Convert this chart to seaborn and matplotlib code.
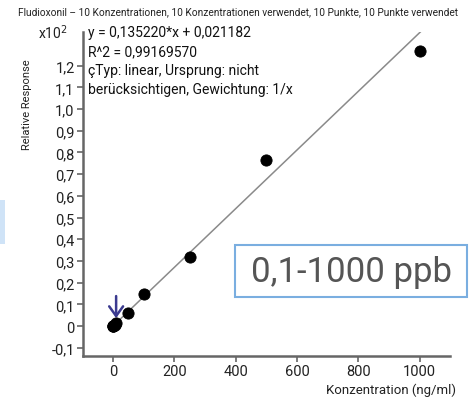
import matplotlib
matplotlib.use("Agg")
import matplotlib.pyplot as plt
import seaborn as sns
import numpy as np
import pandas as pd
from matplotlib.patches import FancyArrowPatch, Rectangle

sns.set_theme(style="white")
plt.rcParams['font.family'] = ['Roboto', 'DejaVu Sans']

conc = [0.1, 0.5, 1, 5, 10, 50, 100, 250, 500, 1000]
resp = [0.000, 0.001, 0.002, 0.006, 0.012, 0.060, 0.147, 0.318, 0.765, 1.267]
slope = 0.0013522
intercept = 0.00021182
line_x = [0, 1020]
yticks = [-0.1, 0, 0.1, 0.2, 0.3, 0.4, 0.5, 0.6, 0.7, 0.8, 0.9, 1.0, 1.1, 1.2]
ytick_labels = ["-0,1", "0", "0,1", "0,2", "0,3", "0,4", "0,5", "0,6", "0,7", "0,8", "0,9", "1,0", "1,1", "1,2"]
xticks = [0, 200, 400, 600, 800, 1000]

df = pd.DataFrame({"x": conc, "y": resp})
line_df = pd.DataFrame({"x": line_x, "y": [slope * v + intercept for v in line_x]})

fig = plt.figure(figsize=(4.77, 4.02), dpi=100)
ax = fig.add_axes([0.174, 0.112, 0.769, 0.806])

sns.lineplot(data=line_df, x="x", y="y", ax=ax, color="#8a8a8a", linewidth=1.1)
sns.scatterplot(data=df, x="x", y="y", ax=ax, color="black", s=65, edgecolor="black", zorder=3)

ax.set_xlim(-98, 1098)
ax.set_ylim(-0.138, 1.355)
ax.set_yticks(yticks)
ax.set_yticklabels(ytick_labels)
ax.set_xticks(xticks)
ax.set_xticklabels([str(v) for v in xticks])
ax.set_xlabel("")
ax.set_ylabel("")
for s in ["top", "right"]:
    ax.spines[s].set_visible(False)
for s in ["left", "bottom"]:
    ax.spines[s].set_color("#666666")
    ax.spines[s].set_linewidth(1.8)
ax.tick_params(axis="both", which="both", direction="out", length=4, width=1.2,
               color="#666666", labelsize=10.5, labelcolor="#222222", pad=2,
               left=True, bottom=True)

# arrow near origin
ax.add_patch(FancyArrowPatch((10, 0.138), (10, 0.038), arrowstyle="-|>,head_width=0.0,head_length=0.0",
                             color="#3b3a8f", linewidth=1.8, shrinkA=0, shrinkB=0))
ax.add_patch(FancyArrowPatch((10, 0.138), (10, 0.036), arrowstyle="->,head_width=5,head_length=7",
                             color="#3b3a8f", linewidth=1.8, shrinkA=0, shrinkB=0, mutation_scale=1))

# texts
fig.text(0.5, 0.97, "Fludioxonil – 10 Konzentrationen, 10 Konzentrationen verwendet, 10 Punkte, 10 Punkte verwendet",
         ha="center", va="center", fontsize=7.3, color="#222222")
fig.text(0.08, 0.918, "x10$^2$", ha="left", va="center", fontsize=10, color="#222222")
eq_lines = ["y = 0,135220*x + 0,021182", "R^2 = 0,99169570",
            "çTyp: linear, Ursprung: nicht", "berücksichtigen, Gewichtung: 1/x"]
for i, t in enumerate(eq_lines):
    fig.text(0.184, 0.917 - i * 0.047, t, ha="left", va="center", fontsize=10, color="#111111")
fig.text(0.057, 0.74, "Relative Response", rotation=90, ha="center", va="center", fontsize=8, color="#222222")
fig.text(0.955, 0.028, "Konzentration (ng/ml)", ha="right", va="center", fontsize=9.5, color="#222222")

# ppb box
fig.patches.append(Rectangle((0.493, 0.259), 0.487, 0.129, transform=fig.transFigure,
                             fill=True, facecolor="white", edgecolor="#7aaee0", linewidth=1.5, zorder=5))
fig.text(0.736, 0.323, "0,1-1000 ppb", ha="center", va="center", fontsize=25, color="#555555", zorder=6)

# faint blue strip on left edge
fig.patches.append(Rectangle((0.0, 0.39), 0.01, 0.11, transform=fig.transFigure,
                             facecolor="#cfe3f7", edgecolor="none"))

fig.savefig("out.png", dpi=100)
